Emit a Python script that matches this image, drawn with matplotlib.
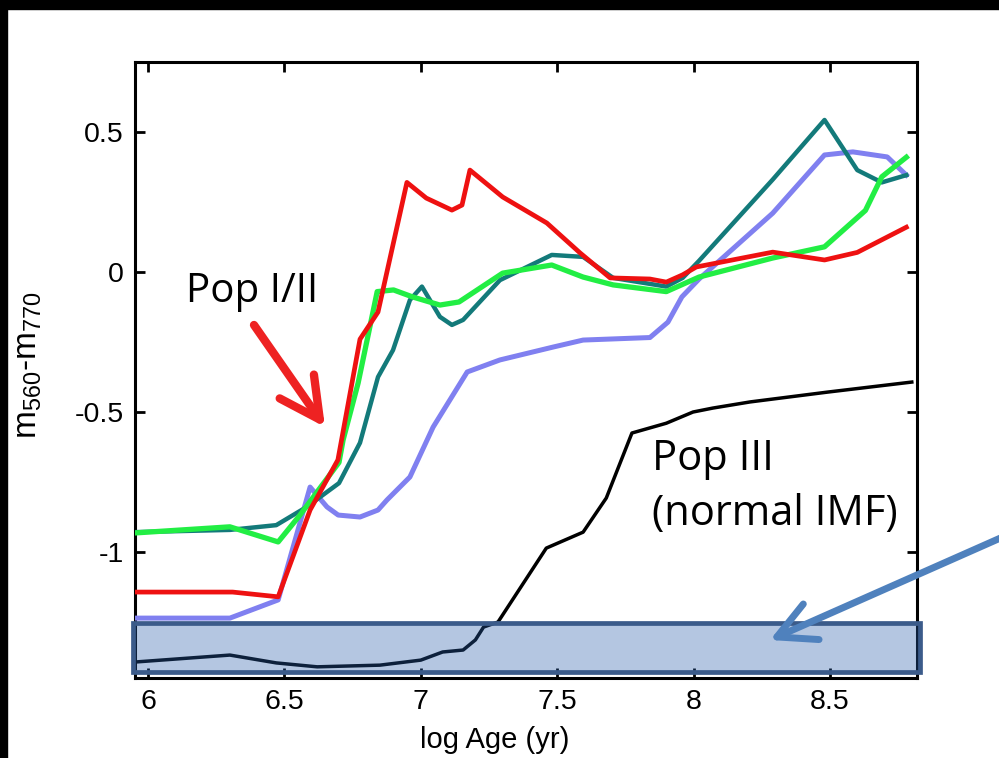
import numpy as np
import matplotlib
matplotlib.use('Agg')
import matplotlib.pyplot as plt
from matplotlib.patches import Rectangle, FancyArrowPatch

plt.rcParams['font.family'] = ['Liberation Sans', 'DejaVu Sans']

# log Age (yr) vs m560-m770
red_x = [5.95, 6.31, 6.477, 6.594, 6.696, 6.777, 6.843, 6.949, 7.02, 7.114, 7.151, 7.18, 7.30, 7.462, 7.584, 7.694, 7.84, 7.90, 7.96, 8.01, 8.29, 8.48, 8.60, 8.78]
red_y = [-1.143, -1.143, -1.16, -0.85, -0.671, -0.24, -0.143, 0.32, 0.264, 0.221, 0.239, 0.364, 0.268, 0.175, 0.068, -0.021, -0.025, -0.036, -0.01, 0.018, 0.071, 0.043, 0.07, 0.16]

green_x = [5.95, 6.30, 6.477, 6.557, 6.70, 6.715, 6.77, 6.826, 6.84, 6.90, 6.97, 7.07, 7.14, 7.30, 7.48, 7.595, 7.705, 7.90, 8.02, 8.29, 8.48, 8.63, 8.69, 8.78]
green_y = [-0.932, -0.91, -0.964, -0.868, -0.68, -0.6, -0.397, -0.136, -0.07, -0.064, -0.089, -0.118, -0.107, -0.004, 0.025, -0.018, -0.046, -0.07, -0.018, 0.05, 0.09, 0.22, 0.34, 0.41]

teal_x = [5.95, 6.30, 6.47, 6.58, 6.70, 6.777, 6.843, 6.898, 6.96, 7.004, 7.07, 7.114, 7.155, 7.29, 7.48, 7.595, 7.705, 7.90, 7.96, 8.02, 8.29, 8.48, 8.60, 8.69, 8.78]
teal_y = [-0.929, -0.921, -0.904, -0.84, -0.754, -0.61, -0.375, -0.279, -0.1, -0.052, -0.16, -0.189, -0.171, -0.029, 0.061, 0.054, -0.021, -0.052, -0.021, 0.04, 0.33, 0.543, 0.364, 0.32, 0.346]

lav_x = [5.95, 6.30, 6.477, 6.594, 6.656, 6.697, 6.777, 6.843, 6.876, 6.96, 7.045, 7.17, 7.29, 7.485, 7.595, 7.84, 7.906, 7.957, 8.02, 8.29, 8.48, 8.584, 8.71, 8.78]
lav_y = [-1.236, -1.236, -1.171, -0.768, -0.839, -0.868, -0.875, -0.85, -0.814, -0.732, -0.554, -0.357, -0.314, -0.268, -0.243, -0.234, -0.179, -0.089, -0.025, 0.21, 0.418, 0.429, 0.411, 0.346]

black_x = [5.95, 6.30, 6.47, 6.62, 6.85, 7.0, 7.08, 7.155, 7.2, 7.23, 7.283, 7.46, 7.595, 7.68, 7.774, 7.90, 7.998, 8.07, 8.207, 8.49, 8.80]
black_y = [-1.393, -1.368, -1.396, -1.41, -1.404, -1.386, -1.357, -1.35, -1.314, -1.268, -1.25, -0.986, -0.929, -0.807, -0.575, -0.54, -0.5, -0.486, -0.464, -0.429, -0.393]

xticks = [6, 6.5, 7, 7.5, 8, 8.5]
yticks = [-1, -0.5, 0, 0.5]

fig = plt.figure(figsize=(9.99, 7.58), dpi=100)
ax = fig.add_axes([0.1351, 0.1055, 0.7828, 0.8127])

ax.plot(black_x, black_y, color='black', lw=2.5, zorder=2)
ax.plot(lav_x, lav_y, color='#8080f0', lw=3.6, zorder=3)
ax.plot(teal_x, teal_y, color='#137a7a', lw=3.2, zorder=4)
ax.plot(green_x, green_y, color='#22ee44', lw=3.8, zorder=5)
ax.plot(red_x, red_y, color='#ee1111', lw=3.4, zorder=6)

ax.set_xlim(5.952, 8.819)
ax.set_ylim(-1.45, 0.75)
ax.set_xticks(xticks)
ax.set_xticklabels(['6', '6.5', '7', '7.5', '8', '8.5'])
ax.set_yticks(yticks)
ax.set_yticklabels(['-1', '-0.5', '0', '0.5'])
ax.tick_params(direction='in', top=True, right=True, length=7, width=2, labelsize=20.5, pad=8)
for s in ax.spines.values():
    s.set_linewidth(2.2)

fig.text(495 / 999, 1 - 740 / 758, 'log Age (yr)', fontsize=21, ha='center', va='center')
fig.text(29 / 999, 1 - 365 / 758, r'm$_{\mathregular{560}}$-m$_{\mathregular{770}}$', fontsize=24,
         rotation=90, ha='center', va='center')

# black frame at top and left
fig.patches.append(Rectangle((0, 1 - 9 / 758), 1, 9 / 758, transform=fig.transFigure, color='black', zorder=10))
fig.patches.append(Rectangle((0, 0), 7 / 999, 1, transform=fig.transFigure, color='black', zorder=10))

# highlight box over the bottom
fig.patches.append(Rectangle((133 / 999, 1 - 672 / 758), 787 / 999, 49 / 758, transform=fig.transFigure,
                             facecolor=(40 / 255, 94 / 255, 171 / 255, 0.35), edgecolor='#3b5b8a', lw=3.4, zorder=10))

# arrows
fig.patches.append(FancyArrowPatch((254 / 999, 1 - 325 / 758), (325 / 999, 1 - 427 / 758), transform=fig.transFigure,
                                   arrowstyle='->,head_length=2.9,head_width=1.5', mutation_scale=10,
                                   color='#ee2222', lw=6, zorder=11, shrinkA=0, shrinkB=0,
                                   capstyle='round', joinstyle='round'))
fig.patches.append(FancyArrowPatch((1005 / 999, 1 - 536 / 758), (770 / 999, 1 - 640 / 758), transform=fig.transFigure,
                                   arrowstyle='->,head_length=2.7,head_width=1.4', mutation_scale=10,
                                   color='#4f81bd', lw=5, zorder=11, shrinkA=0, shrinkB=0,
                                   capstyle='round', joinstyle='round'))

fig.text(186 / 999, 1 - 302 / 758, 'Pop I/II', fontsize=29, family=['Open Sans', 'DejaVu Sans'], va='baseline', zorder=12)
fig.text(652 / 999, 1 - 470 / 758, 'Pop III', fontsize=30, family=['Open Sans', 'DejaVu Sans'], va='baseline', zorder=12)
fig.text(652 / 999, 1 - 525 / 758, '(normal IMF)', fontsize=30, family=['Open Sans', 'DejaVu Sans'], va='baseline', zorder=12)

fig.savefig('out.png', dpi=100)
